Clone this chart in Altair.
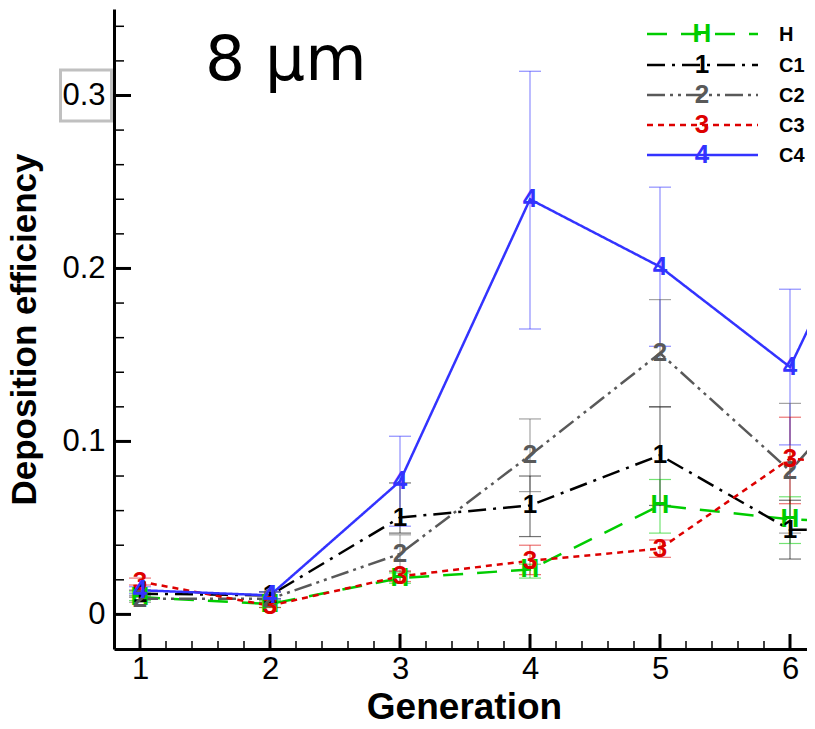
import altair as alt
import pandas as pd

# ---- data ----
generations = [1, 2, 3, 4, 5, 6, 7]
series_names = ["H", "C1", "C2", "C3", "C4"]
marker_symbols = ["H", "1", "2", "3", "4"]
series_colors = ["#00cc00", "#000000", "#595959", "#dd0000", "#3333ff"]

H_mean = [0.010, 0.006, 0.021, 0.026, 0.063, 0.055, 0.052]
H_lo = [0.008, 0.004, 0.018, 0.021, 0.047, 0.041]
H_hi = [0.013, 0.008, 0.024, 0.029, 0.078, 0.068]

C1_mean = [0.012, 0.011, 0.056, 0.063, 0.092, 0.049, 0.048]
C1_lo = [0.010, 0.009, 0.047, 0.045, 0.063, 0.032]
C1_hi = [0.014, 0.013, 0.076, 0.080, 0.120, 0.066]

C2_mean = [0.009, 0.009, 0.035, 0.092, 0.151, 0.083, 0.167]
C2_lo = [0.007, 0.007, 0.025, 0.071, 0.120, 0.047]
C2_hi = [0.011, 0.013, 0.046, 0.113, 0.182, 0.122]

C3_mean = [0.019, 0.005, 0.022, 0.031, 0.038, 0.090, 0.085]
C3_lo = [0.017, 0.004, 0.019, 0.023, 0.033, 0.064]
C3_hi = [0.021, 0.007, 0.025, 0.040, 0.043, 0.114]

C4_mean = [0.014, 0.011, 0.077, 0.240, 0.201, 0.143, 0.300]
C4_lo = [0.012, 0.009, 0.051, 0.165, 0.155, 0.098]
C4_hi = [0.016, 0.013, 0.103, 0.314, 0.247, 0.188]

x_major_ticks = [1, 2, 3, 4, 5, 6]
x_minor_ticks = [1.2, 1.4, 1.6, 1.8, 2.2, 2.4, 2.6, 2.8, 3.2, 3.4, 3.6, 3.8,
                 4.2, 4.4, 4.6, 4.8, 5.2, 5.4, 5.6, 5.8]
y_major_ticks = [0, 0.1, 0.2, 0.3]
y_minor_ticks = [0.02, 0.04, 0.06, 0.08, 0.12, 0.14, 0.16, 0.18,
                 0.22, 0.24, 0.26, 0.28, 0.32, 0.34]
panel_title = "8 μm"
x_title = "Generation"
y_title = "Deposition efficiency"

means = [H_mean, C1_mean, C2_mean, C3_mean, C4_mean]
los = [H_lo, C1_lo, C2_lo, C3_lo, C4_lo]
his = [H_hi, C1_hi, C2_hi, C3_hi, C4_hi]

rows = []
err_rows = []
for name, sym, m, lo, hi in zip(series_names, marker_symbols, means, los, his):
    for i, g in enumerate(generations):
        rows.append({"gen": g, "series": name, "marker": sym, "val": m[i]})
    for i in range(len(lo)):
        err_rows.append({"gen": generations[i], "series": name, "lo": lo[i], "hi": hi[i]})
df = pd.DataFrame(rows)
edf = pd.DataFrame(err_rows)

# ---- scales / axes ----
FONT = "Liberation Sans"
PW, PH = 693, 640
xscale = alt.Scale(domain=[0.8, 0.8 + PW / 130.0], nice=False, zero=False)
yscale = alt.Scale(domain=[-0.02, 0.35], nice=False, zero=False)
xaxis = alt.Axis(values=x_major_ticks, format="d", ticks=False, grid=False,
                 domainColor="black", domainWidth=3, labelFont=FONT,
                 labelFontSize=31, labelColor="black", labelPadding=5,
                 title=x_title, titleFont=FONT, titleFontSize=37,
                 titleFontWeight="bold", titleColor="black", titleX=350,
                 titleY=69, titleBaseline="alphabetic", titleAlign="center")
yaxis = alt.Axis(values=y_major_ticks, format="~g", ticks=False, grid=False,
                 domainColor="black", domainWidth=3, labelFont=FONT,
                 labelFontSize=31, labelColor="black", labelPadding=9,
                 title=y_title, titleFont=FONT, titleFontSize=35,
                 titleFontWeight="bold", titleColor="black", titleX=-79,
                 titleY=320, titleBaseline="alphabetic", titleAngle=270,
                 titleAlign="center")

color_scale = alt.Scale(domain=series_names, range=series_colors)
dash_scale = alt.Scale(domain=series_names,
                       range=[[20, 14], [18, 7, 3, 7], [18, 5, 3, 5, 3, 5], [6, 5], [1, 0]])
width_scale = alt.Scale(domain=series_names, range=[2.5, 2.5, 2.5, 2.5, 3])

X = alt.X("gen:Q", scale=xscale, axis=xaxis)
color = alt.Color("series:N", scale=color_scale, legend=None)
dash = alt.StrokeDash("series:N", scale=dash_scale, legend=None)
swidth = alt.StrokeWidth("series:N", scale=width_scale, legend=None)

lines = alt.Chart(df).mark_line(clip=True).encode(
    x=X, y=alt.Y("val:Q", scale=yscale, axis=yaxis),
    color=color, strokeDash=dash, strokeWidth=swidth)

err = alt.Chart(edf).mark_rule(strokeWidth=1.2, opacity=0.55, clip=True).encode(
    x=X, y=alt.Y("lo:Q", scale=yscale, axis=yaxis), y2="hi:Q", color=color)
cap_lo = alt.Chart(edf).mark_tick(orient="horizontal", size=22, thickness=1.2,
                                  opacity=0.55, clip=True).encode(
    x=X, y=alt.Y("lo:Q", scale=yscale, axis=yaxis), color=color)
cap_hi = alt.Chart(edf).mark_tick(orient="horizontal", size=22, thickness=1.2,
                                  opacity=0.55, clip=True).encode(
    x=X, y=alt.Y("hi:Q", scale=yscale, axis=yaxis), color=color)

markers = alt.Chart(df).mark_text(font=FONT, fontSize=26, fontWeight="bold",
                                  align="center", baseline="middle", clip=True).encode(
    x=X, y=alt.Y("val:Q", scale=yscale, axis=yaxis), text="marker:N", color=color)

# inward ticks
ytick_major = alt.Chart(pd.DataFrame({"v": y_major_ticks})).mark_rule(
    color="black", strokeWidth=3).encode(
    y=alt.Y("v:Q", scale=yscale, axis=yaxis), x=alt.value(0), x2=alt.value(17))
ytick_minor = alt.Chart(pd.DataFrame({"v": y_minor_ticks})).mark_rule(
    color="black", strokeWidth=1.5).encode(
    y=alt.Y("v:Q", scale=yscale, axis=yaxis), x=alt.value(0), x2=alt.value(10))
xtick_major = alt.Chart(pd.DataFrame({"gen": x_major_ticks})).mark_rule(
    color="black", strokeWidth=3).encode(
    x=X, y=alt.value(PH), y2=alt.value(PH - 15))
xtick_minor = alt.Chart(pd.DataFrame({"gen": x_minor_ticks})).mark_rule(
    color="black", strokeWidth=1.5).encode(
    x=X, y=alt.value(PH), y2=alt.value(PH - 8))

# gray selection box around the 0.3 label
box = alt.Chart(pd.DataFrame({"v": [0.3]})).mark_point(
    shape="square", size=2600, filled=False, color="#c0c0c0",
    strokeWidth=3, opacity=1).encode(
    x=alt.value(-28), y=alt.Y("v:Q", scale=yscale, axis=yaxis))

title_txt = alt.Chart(pd.DataFrame({"t": [panel_title]})).mark_text(
    font="DejaVu Sans", fontSize=63, align="left", baseline="alphabetic",
    color="black").encode(x=alt.value(91), y=alt.value(71), text="t:N")

# legend
legend_layers = []
legend_y = [25, 56, 86, 116, 146]
for name, sym, ly in zip(series_names, marker_symbols, legend_y):
    ldf = pd.DataFrame({"series": [name], "marker": [sym]})
    legend_layers.append(alt.Chart(ldf).mark_rule().encode(
        x=alt.value(533), x2=alt.value(644), y=alt.value(ly),
        color=color, strokeDash=dash, strokeWidth=swidth))
    legend_layers.append(alt.Chart(ldf).mark_text(
        font=FONT, fontSize=26, fontWeight="bold", align="center",
        baseline="middle").encode(
        x=alt.value(588), y=alt.value(ly), text="marker:N", color=color))
    legend_layers.append(alt.Chart(ldf).mark_text(
        font=FONT, fontSize=20, fontWeight="bold", align="left",
        baseline="middle", color="black").encode(
        x=alt.value(665), y=alt.value(ly + 1), text="series:N"))

chart = alt.layer(
    err, cap_lo, cap_hi, lines, markers,
    ytick_major, ytick_minor, xtick_major, xtick_minor,
    box, title_txt, *legend_layers
).properties(
    width=PW, height=PH,
    autosize=alt.AutoSizeParams(type="none"),
    padding={"left": 106, "top": 1, "right": 0, "bottom": 72},
).configure_view(stroke=None)

chart.save("out.html", embed_options={"renderer": "svg", "actions": False})
